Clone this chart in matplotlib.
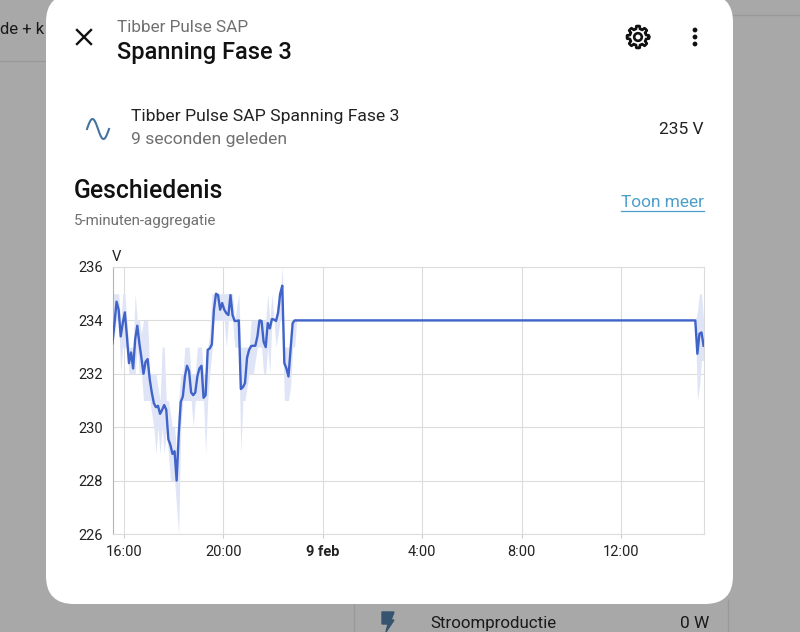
import matplotlib
matplotlib.use('Agg')
import matplotlib.pyplot as plt
from matplotlib.patches import FancyBboxPatch, Circle, Polygon
import numpy as np

plt.rcParams['font.family'] = ['Roboto', 'DejaVu Sans']

# minutes after 16:00, one sample per 5 minutes, then the flat gap up to the last samples
minutes = [-28, -23, -18, -13, -8, -3, 2, 7, 12, 17, 22, 27, 32, 37, 42, 47, 52, 57,
           62, 67, 72, 77, 82, 87, 92, 97, 102, 107, 112, 117, 122, 127, 132, 137, 142, 147,
           152, 157, 162, 167, 172, 177, 182, 187, 192, 197, 202, 207, 212, 217, 222, 227,
           232, 237, 242, 247, 252, 257, 262, 267, 272, 277, 282, 287, 292, 297, 302, 307,
           312, 317, 322, 327, 332, 337, 342, 347, 352, 357, 362, 367, 372, 377, 382, 387,
           392, 397, 402, 407, 412, 417, 1379, 1384, 1389, 1394, 1399]
volt_mean = [233.14, 233.9, 234.7, 234.4, 233.4, 233.9, 234.3, 233.4, 232.4, 232.8, 232.2, 233.3,
             233.8, 233.15, 232.6, 232.0, 232.45, 232.55, 231.8, 231.3, 230.9, 230.75, 230.8, 230.5,
             230.65, 230.83, 230.65, 229.55, 229.33, 229.0, 229.1, 228.0, 229.7, 230.95, 231.15, 231.9,
             232.3, 232.1, 231.3, 231.2, 231.3, 231.9, 232.2, 232.3, 231.1, 231.2, 232.9, 232.95,
             233.1, 234.4, 235.0, 234.95, 234.4, 234.65, 234.4, 234.27, 234.2, 234.95, 234.2, 233.98,
             233.98, 234.0, 231.43, 231.5, 231.65, 232.6, 232.9, 233.04, 233.05, 233.05, 233.4, 234.0,
             233.98, 233.2, 233.0, 233.9, 233.7, 234.05, 234.03, 233.98, 234.3, 235.0, 235.3, 232.4,
             232.2, 231.9, 232.9, 233.9, 234.0, 234.0, 234.0, 232.75, 233.5, 233.55, 233.05]
volt_min = [233, 233.5, 234, 234, 232, 233, 233, 233, 232, 232, 232, 232,
            233, 232, 232, 231, 231, 231, 231, 230.5, 230, 229, 230, 229,
            230, 229, 230, 229, 228, 228, 228, 227, 226, 230, 231, 231,
            231, 231, 231, 230, 231, 231, 231, 231, 231, 229, 231, 232,
            232.8, 234, 234, 234, 234, 234, 234, 233, 234, 234, 234, 233,
            233, 233, 229, 231, 231, 231.5, 232, 232, 232, 232.5, 233, 233,
            233, 232, 232, 233, 232, 234, 234, 233, 233.5, 234, 234, 231,
            231, 231, 231.5, 233, 233, 234, 234, 231, 231.5, 232.5, 232.5]
volt_max = [235, 235, 235, 235, 234, 235, 235, 234, 233, 233, 233, 235,
            234, 234, 233.5, 234, 234, 234, 232, 232, 232, 232, 231.5, 231,
            233, 233, 231, 231, 230.5, 230, 230, 229, 231, 232, 232, 233,
            233, 233, 232, 232, 232, 233, 233, 233, 232, 232, 233, 233.5,
            235, 235, 235, 235, 235, 235, 235, 235, 235, 235, 235, 234,
            234.5, 235, 233, 233, 233, 233, 233, 234, 234, 234, 234, 234,
            234, 234, 234, 235, 234, 235, 234, 234, 235, 235, 236, 233,
            233, 233, 233, 234, 234, 234, 234, 234.3, 235, 235, 234]
x_ticks = [0, 240, 480, 720, 960, 1200]
x_labels = ['16:00', '20:00', '9 feb', '4:00', '8:00', '12:00']
y_ticks = [226, 228, 230, 232, 234, 236]

W, H = 800, 632
fig = plt.figure(figsize=(W / 100, H / 100), dpi=100, facecolor='#a8a8a8')

# page + dialog are drawn in pixel coordinates
bg = fig.add_axes([0, 0, 1, 1])
bg.set_xlim(0, W)
bg.set_ylim(H, 0)
bg.axis('off')

bg.plot([0, 46], [61, 61], color='#999999', lw=1)
bg.plot([733, 800], [15, 15], color='#999999', lw=1)
bg.plot([353.5, 353.5], [604, 632], color='#999999', lw=1)
bg.plot([727.5, 727.5], [600, 632], color='#999999', lw=1)
bg.text(0, 29, 'de + k', fontsize=12, color='#1a1a1a', va='center')
bg.text(430, 623.5, 'Stroomproductie', fontsize=12.2, color='#1a1a1a', va='center')
bg.text(709, 623.5, '0 W', fontsize=12.4, color='#1a1a1a', va='center', ha='right')
bg.add_patch(Polygon([(382, 612), (394, 612), (391, 620), (394, 620), (386, 632), (388, 624), (382, 624)],
                     color='#36536f'))

r = 28
bg.add_patch(FancyBboxPatch((46 + r, -6 + r), 687 - 2 * r, 610 - 2 * r,
                            boxstyle='round,pad=%d,rounding_size=%d' % (r, r),
                            fc='white', ec='none', zorder=2))

# header
bg.plot([77, 91], [30, 44], color='#111111', lw=1.7, zorder=3)
bg.plot([77, 91], [44, 30], color='#111111', lw=1.7, zorder=3)
bg.text(117, 28, 'Tibber Pulse SAP', fontsize=12.3, color='#707070', va='center', zorder=3)
bg.text(117, 52, 'Spanning Fase 3', fontsize=17, color='#111111', va='center', weight='medium', zorder=3)

# gear icon
th = np.linspace(0, 2 * np.pi, 241)
rad = 9.6 + 1.4 * np.clip(3 * np.cos(8 * th), -1, 1)
bg.plot(638 + rad * np.cos(th), 37 + rad * np.sin(th), color='#111111', lw=1.9, zorder=3)
bg.add_patch(Circle((638, 37), 3.8, fc='none', ec='#111111', lw=1.9, zorder=3))
for yy in (30, 37, 44):
    bg.add_patch(Circle((695, yy), 2.4, fc='#111111', ec='none', zorder=3))

# entity row
sx = np.linspace(87, 109, 60)
bg.plot(sx, 129 - 10 * np.sin((sx - 87) / 22 * 2 * np.pi), color='#44739e', lw=1.5, zorder=3)
bg.text(131, 116.5, 'Tibber Pulse SAP Spanning Fase 3', fontsize=12.6, color='#222222', va='center', zorder=3)
bg.text(131, 139.5, '9 seconden geleden', fontsize=12.6, color='#707070', va='center', zorder=3)
bg.text(704, 129.5, '235 V', fontsize=12.5, color='#222222', va='center', ha='right', zorder=3)

bg.text(74, 191, 'Geschiedenis', fontsize=17.8, color='#111111', va='center', weight='medium', zorder=3)
bg.text(74, 220.5, '5-minuten-aggregatie', fontsize=10.9, color='#707070', va='center', zorder=3)
bg.text(704, 202.5, 'Toon meer', fontsize=12.4, color='#4a9fca', va='center', ha='right', zorder=3)
bg.plot([621, 704], [210.5, 210.5], color='#4a9fca', lw=0.9, zorder=3)
bg.text(112, 257, 'V', fontsize=10.6, color='#222222', va='center', zorder=3)

# chart
left, right, top, bottom = 112.5, 704, 267, 534
ax = fig.add_axes([left / W, 1 - bottom / H, (right - left) / W, (bottom - top) / H], zorder=5)
ax.patch.set_alpha(0)
ax.fill_between(minutes, volt_min, volt_max, color='#dfe5f6', lw=0, zorder=2)
ax.plot(minutes, volt_mean, color='#3f63c9', lw=1.7, zorder=3)
ax.set_xlim(-27.8, 1400)
ax.set_ylim(226, 236)
ax.set_xticks(x_ticks)
ax.set_xticklabels(x_labels)
ax.set_yticks(y_ticks)
ax.grid(True, color='#dcdcdc', lw=0.8, zorder=1)
ax.set_axisbelow(True)
ax.tick_params(axis='x', length=3, color='#cccccc', labelsize=10.5, labelcolor='#222222', pad=5)
ax.tick_params(axis='y', length=0, labelsize=10.5, labelcolor='#222222', pad=7)
ax.get_xticklabels()[2].set_fontweight('bold')
for s in ('top', 'right', 'bottom'):
    ax.spines[s].set_color('#dcdcdc')
ax.spines['left'].set_color('#b4b4b4')

fig.savefig('out.png', dpi=100, facecolor=fig.get_facecolor())
